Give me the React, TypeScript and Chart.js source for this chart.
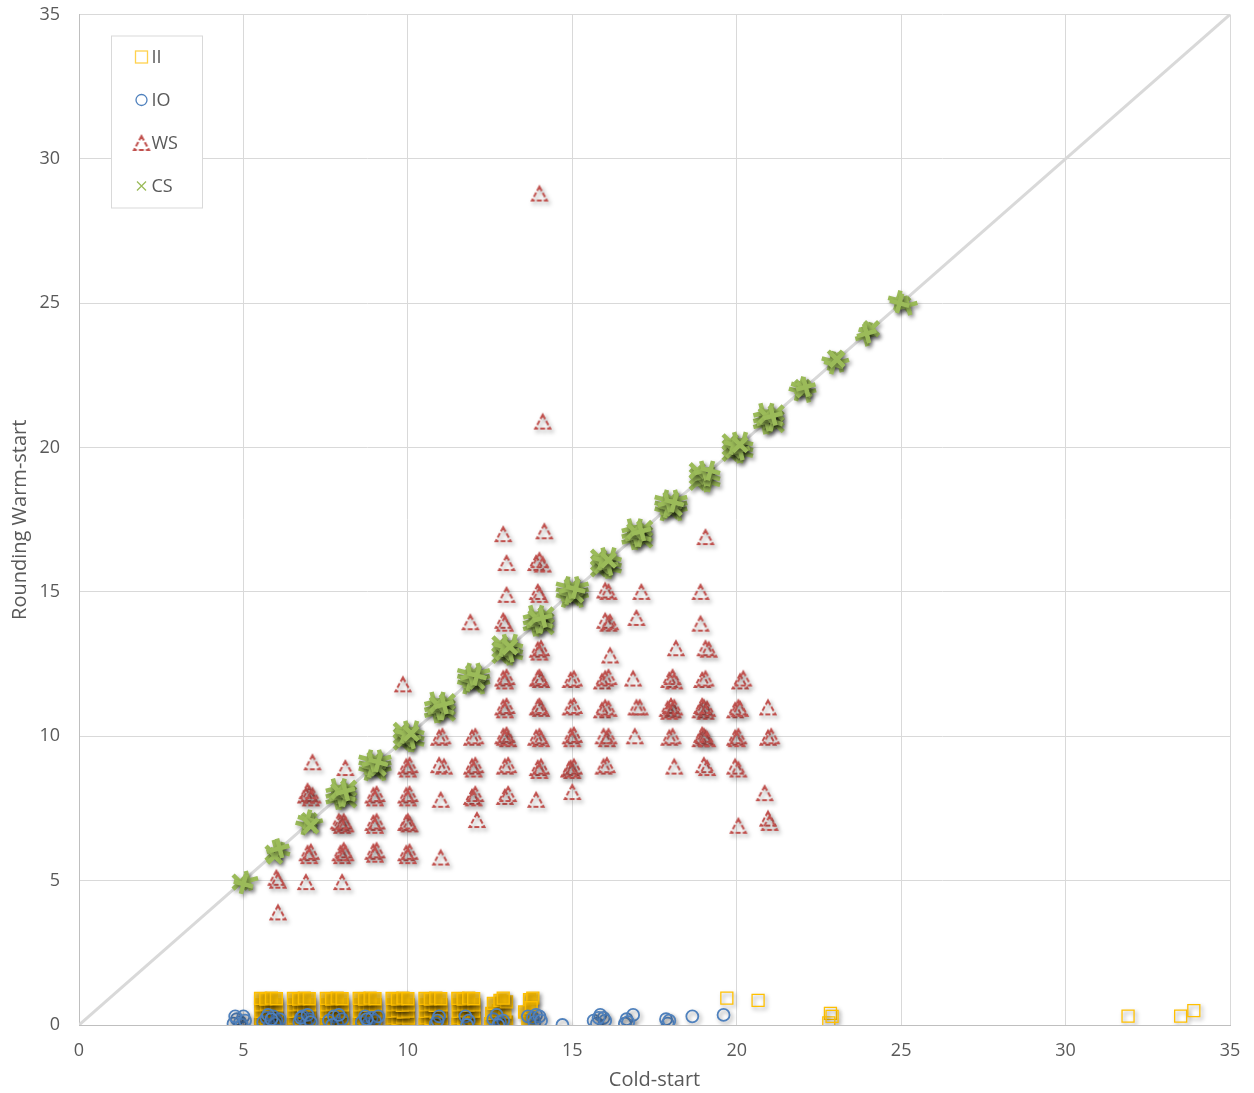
import React, { useEffect, useRef } from 'react';
import { Chart, registerables } from 'chart.js';

Chart.register(...registerables);

// ---------- data ----------
const seriesNames = ['II', 'IO', 'WS', 'CS'];
const tickValues = [0, 5, 10, 15, 20, 25, 30, 35];
const diagonalEnds = [0, 35];

// II : yellow squares
const iiPoints: [number, number][] = [
  [5.52, 0.02], [5.68, 0.05], [5.85, 0.0], [6.0, 0.04],
  [5.55, 0.25], [5.7, 0.22], [5.84, 0.27], [6.02, 0.24],
  [5.53, 0.47], [5.69, 0.5], [5.86, 0.45], [6.0, 0.48],
  [5.54, 0.7], [5.7, 0.72], [5.83, 0.68], [6.01, 0.7],
  [5.52, 0.92], [5.68, 0.9], [5.85, 0.93], [6.0, 0.91],

  [6.52, 0.02], [6.68, 0.05], [6.85, 0.0], [7.0, 0.04],
  [6.55, 0.25], [6.7, 0.22], [6.84, 0.27], [7.02, 0.24],
  [6.53, 0.47], [6.69, 0.5], [6.86, 0.45], [7.0, 0.48],
  [6.54, 0.7], [6.7, 0.72], [6.83, 0.68], [7.01, 0.7],
  [6.52, 0.92], [6.68, 0.9], [6.85, 0.93], [7.0, 0.91],

  [7.52, 0.02], [7.68, 0.05], [7.85, 0.0], [8.0, 0.04],
  [7.55, 0.25], [7.7, 0.22], [7.84, 0.27], [8.02, 0.24],
  [7.53, 0.47], [7.69, 0.5], [7.86, 0.45], [8.0, 0.48],
  [7.54, 0.7], [7.7, 0.72], [7.83, 0.68], [8.01, 0.7],
  [7.52, 0.92], [7.68, 0.9], [7.85, 0.93], [8.0, 0.91],

  [8.52, 0.02], [8.68, 0.05], [8.85, 0.0], [9.0, 0.04],
  [8.55, 0.25], [8.7, 0.22], [8.84, 0.27], [9.02, 0.24],
  [8.53, 0.47], [8.69, 0.5], [8.86, 0.45], [9.0, 0.48],
  [8.54, 0.7], [8.7, 0.72], [8.83, 0.68], [9.01, 0.7],
  [8.52, 0.92], [8.68, 0.9], [8.85, 0.93], [9.0, 0.91],

  [9.52, 0.02], [9.68, 0.05], [9.85, 0.0], [10.0, 0.04],
  [9.55, 0.25], [9.7, 0.22], [9.84, 0.27], [10.02, 0.24],
  [9.53, 0.47], [9.69, 0.5], [9.86, 0.45], [10.0, 0.48],
  [9.54, 0.7], [9.7, 0.72], [9.83, 0.68], [10.01, 0.7],
  [9.52, 0.92], [9.68, 0.9], [9.85, 0.93], [10.0, 0.91],

  [10.52, 0.02], [10.68, 0.05], [10.85, 0.0], [11.0, 0.04],
  [10.55, 0.25], [10.7, 0.22], [10.84, 0.27], [11.02, 0.24],
  [10.53, 0.47], [10.69, 0.5], [10.86, 0.45], [11.0, 0.48],
  [10.54, 0.7], [10.7, 0.72], [10.83, 0.68], [11.01, 0.7],
  [10.52, 0.92], [10.68, 0.9], [10.85, 0.93], [11.0, 0.91],

  [11.52, 0.02], [11.68, 0.05], [11.85, 0.0], [12.0, 0.04],
  [11.55, 0.25], [11.7, 0.22], [11.84, 0.27], [12.02, 0.24],
  [11.53, 0.47], [11.69, 0.5], [11.86, 0.45], [12.0, 0.48],
  [11.54, 0.7], [11.7, 0.72], [11.83, 0.68], [12.01, 0.7],
  [11.52, 0.92], [11.68, 0.9], [11.85, 0.93], [12.0, 0.91],

  [12.52, 0.05], [12.7, 0.2], [12.85, 0.0], [13.0, 0.1],
  [12.55, 0.4], [12.75, 0.5], [12.95, 0.45],
  [12.6, 0.75], [12.8, 0.85], [13.0, 0.8], [12.9, 0.93],

  [13.55, 0.45], [13.65, 0.1], [13.7, 0.88], [13.8, 0.93], [13.75, 0.6],

  [19.7, 0.93], [20.65, 0.85], [22.85, 0.4], [22.8, 0.07], [22.9, 0.3],
  [31.9, 0.31], [33.5, 0.31], [33.9, 0.5],
];

// IO : blue circles
const ioPoints: [number, number][] = [
  [4.7, 0.05], [4.8, 0.2], [4.9, 0.1], [5.0, 0.3], [4.75, 0.3], [4.95, 0.0], [5.05, 0.15],
  [5.6, 0.1], [5.7, 0.25], [5.8, 0.0], [5.9, 0.3], [6.0, 0.15], [6.1, 0.2], [5.75, 0.35], [5.95, 0.05], [5.85, 0.2],
  [6.7, 0.1], [6.8, 0.3], [6.9, 0.05], [7.0, 0.2], [6.75, 0.25], [6.95, 0.35], [7.05, 0.1],
  [7.6, 0.15], [7.75, 0.3], [7.85, 0.05], [8.0, 0.2], [7.7, 0.0], [7.9, 0.35],
  [8.6, 0.1], [8.7, 0.3], [8.8, 0.05], [8.9, 0.25], [9.0, 0.15], [9.1, 0.3], [8.75, 0.2],
  [10.85, 0.05], [10.95, 0.3], [10.9, 0.15],
  [11.75, 0.3], [11.85, 0.15], [11.8, 0.0],
  [12.6, 0.2], [12.7, 0.35], [12.8, 0.1], [12.9, 0.15], [12.75, 0.0],
  [13.65, 0.3], [13.8, 0.25], [13.9, 0.35], [13.85, 0.1], [14.0, 0.3], [14.05, 0.15],
  [14.7, 0.0],
  [15.65, 0.15], [15.75, 0.05], [15.85, 0.35], [15.95, 0.25], [16.0, 0.15], [15.8, 0.25],
  [16.6, 0.05], [16.65, 0.2], [16.85, 0.35], [16.7, 0.1],
  [17.85, 0.2], [17.9, 0.05], [17.95, 0.15],
  [18.65, 0.3],
  [19.6, 0.35],
];

// WS : red triangles
const wsPoints: [number, number][] = [
  [14.0, 28.8], [14.1, 20.9],
  [12.9, 17.0], [14.15, 17.1], [19.05, 16.9],
  [13.0, 16.0], [13.9, 16.0], [14.0, 16.1], [14.1, 15.95],
  [16.0, 15.05], [16.1, 15.0], [17.1, 15.0], [13.0, 14.9], [13.95, 15.0], [14.0, 14.9], [18.9, 15.0],
  [11.9, 13.95], [12.9, 14.0], [12.95, 13.9], [16.0, 14.0], [16.1, 13.9], [16.15, 13.95], [16.95, 14.1], [18.9, 13.9],
  [13.95, 13.0], [14.05, 13.05], [14.0, 12.9], [16.15, 12.8], [18.15, 13.05], [19.05, 13.05], [19.15, 13.0],
  [9.85, 11.8],
  [12.9, 12.0], [13.0, 12.05], [12.95, 11.9], [13.95, 12.0], [14.05, 11.95], [14.0, 12.05],
  [14.95, 11.95], [15.05, 12.0], [15.9, 11.9], [16.0, 12.0], [16.1, 12.05], [16.85, 12.0],
  [17.95, 11.95], [18.05, 12.05], [18.1, 11.9], [18.95, 11.95], [19.05, 12.0], [20.1, 11.9], [20.2, 12.0],
  [12.9, 11.0], [13.0, 11.05], [12.95, 10.9], [13.95, 11.0], [14.05, 10.95], [14.0, 11.05],
  [14.95, 11.0], [15.05, 11.05], [15.9, 10.9], [16.0, 11.0], [16.1, 10.95], [16.95, 11.0], [17.05, 11.0],
  [17.9, 10.95], [18.0, 11.05], [18.05, 10.9], [18.1, 11.0], [17.95, 10.85],
  [18.9, 10.9], [19.0, 11.0], [19.05, 10.85], [19.1, 10.95], [18.95, 11.05],
  [19.95, 10.9], [20.05, 11.0], [20.1, 10.95], [20.95, 11.0],
  [10.95, 9.95], [11.05, 10.0], [11.95, 9.95], [12.05, 10.0],
  [12.9, 10.0], [13.0, 10.05], [13.05, 9.9], [12.95, 9.95], [13.9, 9.95], [14.0, 10.0], [14.05, 9.9],
  [14.95, 10.0], [15.05, 10.05], [15.0, 9.9], [15.95, 10.0], [16.05, 9.9], [16.1, 10.0], [16.9, 10.0],
  [17.95, 9.95], [18.05, 10.0], [18.9, 9.9], [19.0, 10.0], [19.05, 9.95], [18.95, 10.05], [19.1, 9.9],
  [19.95, 9.95], [20.05, 10.0], [20.0, 9.9], [20.95, 9.95], [21.05, 10.0],
  [7.1, 9.1], [8.1, 8.9],
  [9.95, 8.95], [10.05, 9.0], [10.0, 8.85], [10.95, 9.0], [11.1, 8.95],
  [11.95, 8.95], [12.05, 9.0], [12.0, 8.85], [12.95, 8.95], [13.05, 9.0],
  [13.95, 8.9], [14.05, 8.95], [14.0, 8.8], [14.95, 8.9], [15.05, 8.95], [15.0, 8.8], [14.9, 8.85],
  [15.95, 8.95], [16.05, 9.0], [18.1, 8.95], [19.0, 9.0], [19.1, 8.9], [19.95, 8.95], [20.05, 8.85],
  [6.9, 7.95], [7.0, 8.0], [7.05, 7.85], [7.1, 7.95], [6.95, 8.1],
  [8.95, 7.95], [9.05, 8.0], [9.0, 7.85], [9.95, 7.95], [10.05, 8.0], [10.0, 7.85],
  [11.0, 7.8], [11.95, 7.9], [12.05, 8.0], [12.0, 7.85], [12.95, 7.9], [13.05, 8.0], [13.9, 7.8],
  [15.0, 8.07], [20.85, 8.03],
  [7.95, 7.0], [8.05, 7.05], [8.0, 6.9], [8.1, 6.95], [7.9, 7.05],
  [8.95, 7.0], [9.05, 7.05], [9.0, 6.9], [9.95, 7.0], [10.05, 6.95], [10.0, 7.05],
  [12.1, 7.1], [20.05, 6.9], [20.95, 7.15], [21.0, 7.0],
  [6.95, 5.95], [7.05, 6.0], [7.0, 5.85], [7.95, 5.95], [8.05, 6.05], [8.0, 5.85], [8.1, 5.95],
  [8.95, 6.0], [9.05, 6.05], [9.0, 5.9], [9.95, 5.95], [10.05, 6.0], [10.0, 5.85], [11.0, 5.8],
  [6.0, 5.1], [6.05, 5.0], [6.9, 4.95], [8.0, 4.95], [6.05, 3.9],
];

// CS : green crosses
const csPoints: [number, number][] = [
  [4.9, 4.95], [5.15, 5.0], [5.0, 4.88],
  [5.9, 5.95], [6.0, 6.08], [6.12, 6.0], [5.95, 5.85], [6.1, 6.12],
  [6.88, 6.92], [7.0, 7.08], [7.12, 7.0], [6.95, 7.12], [7.05, 6.9],
  [7.8, 7.8], [8.0, 7.8], [8.2, 7.8], [7.8, 8.0], [8.0, 8.0], [8.2, 8.0], [7.8, 8.2], [8.0, 8.2], [8.2, 8.2],
  [7.9, 7.9], [8.1, 7.9], [7.9, 8.1], [8.1, 8.1],
  [8.8, 8.8], [9.0, 8.8], [9.2, 8.8], [8.8, 9.0], [9.0, 9.0], [9.2, 9.0], [8.8, 9.2], [9.0, 9.2], [9.2, 9.2],
  [8.9, 8.9], [9.1, 8.9], [8.9, 9.1], [9.1, 9.1],
  [9.8, 9.8], [10.0, 9.8], [10.2, 9.8], [9.8, 10.0], [10.0, 10.0], [10.2, 10.0], [9.8, 10.2], [10.0, 10.2], [10.2, 10.2],
  [9.9, 9.9], [10.1, 9.9], [9.9, 10.1], [10.1, 10.1],
  [10.8, 10.8], [11.0, 10.8], [11.2, 10.8], [10.8, 11.0], [11.0, 11.0], [11.2, 11.0], [10.8, 11.2], [11.0, 11.2], [11.2, 11.2],
  [10.9, 10.9], [11.1, 10.9], [10.9, 11.1], [11.1, 11.1],
  [11.8, 11.8], [12.0, 11.8], [12.2, 11.8], [11.8, 12.0], [12.0, 12.0], [12.2, 12.0], [11.8, 12.2], [12.0, 12.2], [12.2, 12.2],
  [11.9, 11.9], [12.1, 11.9], [11.9, 12.1], [12.1, 12.1],
  [12.8, 12.8], [13.0, 12.8], [13.2, 12.8], [12.8, 13.0], [13.0, 13.0], [13.2, 13.0], [12.8, 13.2], [13.0, 13.2], [13.2, 13.2],
  [12.9, 12.9], [13.1, 12.9], [12.9, 13.1], [13.1, 13.1],
  [13.8, 13.8], [14.0, 13.8], [14.2, 13.8], [13.8, 14.0], [14.0, 14.0], [14.2, 14.0], [13.8, 14.2], [14.0, 14.2], [14.2, 14.2],
  [13.9, 13.9], [14.1, 13.9], [13.9, 14.1], [14.1, 14.1],
  [14.8, 14.8], [15.0, 14.8], [15.2, 14.8], [14.8, 15.0], [15.0, 15.0], [15.2, 15.0], [14.8, 15.2], [15.0, 15.2], [15.2, 15.2],
  [14.9, 14.9], [15.1, 14.9], [14.9, 15.1], [15.1, 15.1],
  [15.8, 15.8], [16.0, 15.8], [16.2, 15.8], [15.8, 16.0], [16.0, 16.0], [16.2, 16.0], [15.8, 16.2], [16.0, 16.2], [16.2, 16.2],
  [15.9, 15.9], [16.1, 15.9], [15.9, 16.1], [16.1, 16.1],
  [16.8, 16.8], [17.0, 16.8], [17.2, 16.8], [16.8, 17.0], [17.0, 17.0], [17.2, 17.0], [16.8, 17.2], [17.0, 17.2], [17.2, 17.2],
  [16.9, 16.9], [17.1, 16.9], [16.9, 17.1], [17.1, 17.1],
  [17.8, 17.8], [18.0, 17.8], [18.2, 17.8], [17.8, 18.0], [18.0, 18.0], [18.2, 18.0], [17.8, 18.2], [18.0, 18.2], [18.2, 18.2],
  [17.9, 17.9], [18.1, 17.9], [17.9, 18.1], [18.1, 18.1],
  [18.8, 18.8], [19.0, 18.8], [19.2, 18.8], [18.8, 19.0], [19.0, 19.0], [19.2, 19.0], [18.8, 19.2], [19.0, 19.2], [19.2, 19.2],
  [19.8, 19.8], [20.0, 19.8], [20.2, 19.8], [19.8, 20.0], [20.0, 20.0], [20.2, 20.0], [19.8, 20.2], [20.0, 20.2], [20.2, 20.2],
  [19.9, 19.9], [20.1, 19.9], [19.9, 20.1], [20.1, 20.1],
  [20.8, 20.8], [21.0, 20.8], [21.2, 20.8], [20.8, 21.0], [21.0, 21.0], [21.2, 21.0], [20.8, 21.2], [21.0, 21.2], [21.2, 21.2],
  [20.9, 20.9], [21.1, 20.9], [20.9, 21.1], [21.1, 21.1],
  [21.88, 21.95], [22.0, 22.08], [22.12, 21.9], [21.95, 22.12], [22.05, 22.0], [22.1, 22.1],
  [22.88, 23.0], [23.0, 23.1], [23.12, 22.95], [22.95, 22.88], [23.05, 23.05],
  [23.9, 23.85], [24.0, 24.0], [24.1, 24.12], [23.95, 23.95],
  [24.9, 25.1], [25.05, 24.95], [25.2, 24.92], [24.95, 25.0],
];

// ---------- styles ----------
const COLORS = { II: '#ffc000', IO: '#4f81bd', WS: '#c0504d', CS: '#9bbb59' };
const TEXT = '#595959';
const FONT = '"Open Sans", "DejaVu Sans", sans-serif';

function makeTriangle(): HTMLCanvasElement {
  const c = document.createElement('canvas');
  c.width = 22;
  c.height = 22;
  const g = c.getContext('2d')!;
  g.strokeStyle = COLORS.WS;
  g.lineWidth = 2;
  g.setLineDash([5, 2]);
  g.beginPath();
  g.moveTo(11, 4);
  g.lineTo(18.5, 18);
  g.lineTo(3.5, 18);
  g.closePath();
  g.stroke();
  return c;
}

const toXY = (pts: [number, number][]) => pts.map(([x, y]) => ({ x, y }));

export default function App() {
  const ref = useRef<HTMLCanvasElement | null>(null);

  useEffect(() => {
    if (!ref.current) return;
    const tri = makeTriangle();

    const shadowPlugin = {
      id: 'markerShadow',
      beforeDatasetDraw(chart: any, args: any) {
        const ds = chart.data.datasets[args.index];
        if (ds.showLine) return;
        const ctx = chart.ctx;
        ctx.save();
        ctx.shadowColor = 'rgba(0,0,0,0.4)';
        ctx.shadowBlur = 4;
        ctx.shadowOffsetX = 2;
        ctx.shadowOffsetY = 2.5;
      },
      afterDatasetDraw(chart: any, args: any) {
        const ds = chart.data.datasets[args.index];
        if (ds.showLine) return;
        chart.ctx.restore();
      },
    };

    const legendPlugin = {
      id: 'insetLegend',
      afterDraw(chart: any) {
        const ctx = chart.ctx as CanvasRenderingContext2D;
        const a = chart.chartArea;
        const bx = a.left + 32.5;
        const by = a.top + 21.5;
        const bw = 91;
        const bh = 172;
        ctx.save();
        ctx.fillStyle = '#ffffff';
        ctx.fillRect(bx, by, bw, bh);
        ctx.strokeStyle = '#d9d9d9';
        ctx.lineWidth = 1;
        ctx.strokeRect(bx, by, bw, bh);
        seriesNames.forEach((name, i) => {
          const cy = by + 21 + i * 43;
          const mx = bx + 30;
          ctx.lineWidth = 1.3;
          ctx.setLineDash([]);
          if (name === 'II') {
            ctx.strokeStyle = '#ffd24d';
            ctx.strokeRect(mx - 6, cy - 6, 12, 12);
          } else if (name === 'IO') {
            ctx.strokeStyle = COLORS.IO;
            ctx.beginPath();
            ctx.arc(mx, cy, 5.5, 0, Math.PI * 2);
            ctx.stroke();
          } else if (name === 'WS') {
            ctx.drawImage(tri, mx - 11, cy - 11);
          } else {
            ctx.strokeStyle = COLORS.CS;
            ctx.beginPath();
            ctx.moveTo(mx - 4.5, cy - 4.5);
            ctx.lineTo(mx + 4.5, cy + 4.5);
            ctx.moveTo(mx + 4.5, cy - 4.5);
            ctx.lineTo(mx - 4.5, cy + 4.5);
            ctx.stroke();
          }
          ctx.fillStyle = TEXT;
          ctx.font = `18px ${FONT}`;
          ctx.textBaseline = 'middle';
          ctx.textAlign = 'left';
          ctx.fillText(name, bx + 40, cy + 1);
        });
        ctx.restore();
      },
    };

    const setTicks = (scale: any) => {
      scale.ticks = tickValues.map((v) => ({ value: v }));
    };

    const chart = new Chart(ref.current, {
      type: 'scatter',
      data: {
        datasets: [
          {
            label: 'y = x',
            data: [
              { x: diagonalEnds[0], y: diagonalEnds[0] },
              { x: diagonalEnds[1], y: diagonalEnds[1] },
            ],
            showLine: true,
            borderColor: '#d9d9d9',
            borderWidth: 3,
            pointRadius: 0,
            order: 10,
          },
          {
            label: 'II',
            data: toXY(iiPoints),
            pointStyle: 'rect',
            pointRadius: 8.5,
            borderColor: COLORS.II,
            backgroundColor: (c: any) =>
              c.raw && c.raw.x < 15 ? 'rgba(255,192,0,0.8)' : 'rgba(255,255,255,0)',
            borderWidth: 1.3,
            order: 4,
          },
          {
            label: 'IO',
            data: toXY(ioPoints),
            pointStyle: 'circle',
            pointRadius: 6,
            borderColor: COLORS.IO,
            backgroundColor: 'rgba(0,0,0,0)',
            borderWidth: 1.8,
            order: 3,
          },
          {
            label: 'WS',
            data: toXY(wsPoints),
            pointStyle: tri,
            pointRadius: 8,
            borderColor: COLORS.WS,
            backgroundColor: 'rgba(0,0,0,0)',
            order: 2,
          },
          {
            label: 'CS',
            data: toXY(csPoints),
            pointStyle: 'crossRot',
            pointRadius: 10,
            pointRotation: (c: any) => (c.dataIndex % 3) * 30,
            borderColor: COLORS.CS,
            backgroundColor: COLORS.CS,
            borderWidth: 4.5,
            order: 1,
          },
        ],
      },
      options: {
        responsive: true,
        maintainAspectRatio: false,
        animation: false,
        layout: { padding: { left: 0, right: 24, top: 14, bottom: 0 } },
        plugins: {
          legend: { display: false },
          tooltip: { enabled: false },
        },
        scales: {
          x: {
            type: 'linear',
            min: 0,
            max: 35,
            afterBuildTicks: setTicks,
            afterFit: (s: any) => {
              s.height = 68;
              s.paddingLeft = 0;
              s.paddingRight = 0;
            },
            grid: { color: '#d9d9d9', lineWidth: 1, drawTicks: false },
            border: { color: '#bfbfbf', width: 1 },
            ticks: {
              padding: 15,
              color: TEXT,
              font: { family: FONT, size: 18 },
              maxRotation: 0,
            },
            title: {
              display: true,
              text: 'Cold-start',
              color: TEXT,
              font: { family: FONT, size: 20 },
              padding: { top: 0, bottom: 1 },
            },
          },
          y: {
            type: 'linear',
            min: 0,
            max: 35,
            afterBuildTicks: setTicks,
            afterFit: (s: any) => {
              s.width = 79;
              s.paddingTop = 0;
              s.paddingBottom = 0;
            },
            grid: { color: '#d9d9d9', lineWidth: 1, drawTicks: false },
            border: { color: '#bfbfbf', width: 1 },
            ticks: {
              padding: 19,
              color: TEXT,
              font: { family: FONT, size: 18 },
            },
            title: {
              display: true,
              text: 'Rounding Warm-start',
              color: TEXT,
              font: { family: FONT, size: 20 },
              padding: { top: 8, bottom: 0 },
            },
          },
        },
      },
      plugins: [shadowPlugin, legendPlugin],
    } as any);

    return () => chart.destroy();
  }, []);

  return (
    <div
      style={{
        position: 'fixed',
        left: 0,
        top: 0,
        width: 1254,
        height: 1093,
        background: '#ffffff',
      }}
    >
      <canvas ref={ref} />
    </div>
  );
}
